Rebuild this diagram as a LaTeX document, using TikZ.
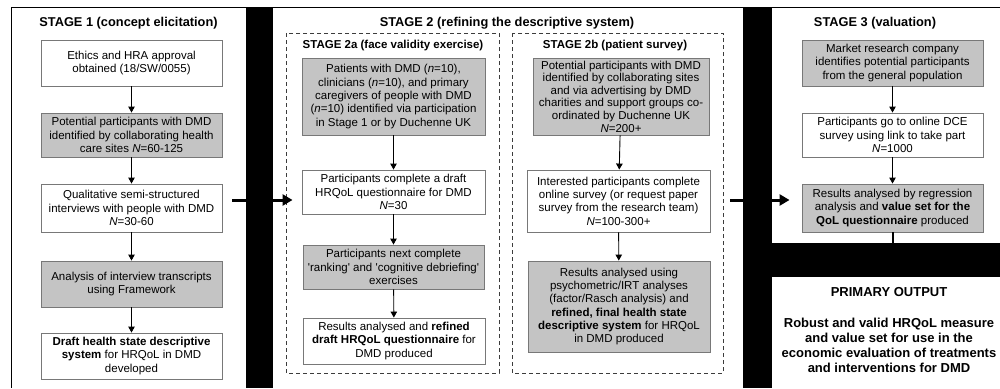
\documentclass[tikz,border=0pt]{standalone}
\usepackage{fontspec}
\setmainfont{Liberation Sans}
\usetikzlibrary{arrows.meta}
\definecolor{boxgray}{RGB}{196,196,196}
\definecolor{edgegray}{RGB}{120,120,120}
\definecolor{dashgray}{RGB}{60,60,60}
\begin{document}
\begin{tikzpicture}[x=1pt,y=-1pt,
  box/.style={draw=edgegray, line width=0.9pt, align=center, inner sep=0pt,
    font=\fontsize{11.5}{13.3}\selectfont},
  gbox/.style={box, fill=boxgray},
  wbox/.style={box, fill=white},
  flow/.style={-{Triangle[length=6pt,width=6.5pt]}, line width=0.9pt},
  bigflow/.style={-{Triangle[length=10pt,width=11pt]}, line width=3pt},
  stagetitle/.style={font=\bfseries\fontsize{12.8}{15}\selectfont, inner sep=0pt},
  subtitle/.style={font=\bfseries\fontsize{11.5}{13.5}\selectfont, inner sep=0pt},
  dashbox/.style={draw=dashgray, dash pattern=on 4pt off 3pt, line width=1pt},
  panel/.style={fill=white}
]
\useasboundingbox (0,0) rectangle (1000,388);
% background frame and panels
\fill[black] (11,7) rectangle (1000,388);
\fill[panel] (12,8) rectangle (246,388);
\fill[panel] (273,8) rectangle (743,388);
\fill[panel] (772,8) rectangle (1000,243);
\fill[panel] (772,277) rectangle (1000,388);

% dashed sub-panels
\draw[dashbox] (286,33) rectangle (499,373);
\draw[dashbox] (512,33) rectangle (723,373);

% titles
\node[stagetitle] (t1) at (128.5,23) {STAGE 1 (concept elicitation)};
\node[stagetitle] (t2) at (507,23) {STAGE 2 (refining the descriptive system)};
\node[stagetitle] (t3) at (875,23) {STAGE 3 (valuation)};
\node[subtitle] (t2a) at (393,46) {STAGE 2a (face validity exercise)};
\node[subtitle] (t2b) at (615,46) {STAGE 2b (patient survey)};

% Stage 1
\node[wbox, minimum width=181pt, minimum height=46pt] (s1) at (131.5,63)
  {Ethics and HRA approval\\obtained (18/SW/0055)};
\node[gbox, minimum width=181pt, minimum height=44pt] (s2) at (131.5,135)
  {Potential participants with DMD\\identified by collaborating health\\care sites \textit{N}=60-125};
\node[wbox, minimum width=181pt, minimum height=48pt] (s3) at (131.5,208)
  {Qualitative semi-structured\\interviews with people with DMD\\\textit{N}=30-60};
\node[gbox, minimum width=181pt, minimum height=46pt] (s4) at (131.5,284)
  {Analysis of interview transcripts\\using Framework};
\node[wbox, minimum width=181pt, minimum height=46pt] (s5) at (131.5,356)
  {\textbf{Draft health state descriptive}\\\textbf{system} for HRQoL in DMD\\developed};
\draw[flow] (s1) -- (s2);
\draw[flow] (s2) -- (s3);
\draw[flow] (s3) -- (s4);
\draw[flow] (s4) -- (s5);

% Stage 2a
\node[gbox, minimum width=183pt, minimum height=77pt] (a1) at (393.5,96.5)
  {Patients with DMD (\textit{n}=10),\\clinicians (\textit{n}=10), and primary\\caregivers of people with DMD\\(\textit{n}=10) identified via participation\\in Stage 1 or by Duchenne UK};
\node[wbox, minimum width=183pt, minimum height=44pt] (a2) at (393.5,192)
  {Participants complete a draft\\HRQoL questionnaire for DMD\\\textit{N}=30};
\node[gbox, minimum width=181pt, minimum height=44pt] (a3) at (393.5,267)
  {Participants next complete\\\textquotesingle ranking\textquotesingle\ and \textquotesingle cognitive debriefing\textquotesingle\\exercises};
\node[wbox, minimum width=182pt, minimum height=46pt] (a4) at (394,341)
  {Results analysed and \textbf{refined}\\\textbf{draft HRQoL questionnaire} for\\DMD produced};
\draw[flow] (a1) -- (a2);
\draw[flow] (a2) -- (a3);
\draw[flow] (a3) -- (a4);

% Stage 2b
\node[gbox, minimum width=176pt, minimum height=77pt, font=\fontsize{11.5}{12.6}\selectfont] (b1) at (621,96.5)
  {Potential participants with DMD\\identified by collaborating sites\\and via advertising by DMD\\charities and support groups co-\\ordinated by Duchenne UK\\\textit{N}=200+};
\node[wbox, minimum width=183pt, minimum height=62pt] (b2) at (618.5,201)
  {Interested participants complete\\online survey (or request paper\\survey from the research team)\\\textit{N}=100-300+};
\node[gbox, minimum width=182pt, minimum height=91pt] (b3) at (619,306.5)
  {Results analysed using\\psychometric/IRT analyses\\(factor/Rasch analysis) and\\\textbf{refined, final health state}\\\textbf{descriptive system} for HRQoL\\in DMD produced};
\draw[flow] (b1) -- (b2);
\draw[flow] (b2) -- (b3);

% Stage 3
\node[gbox, minimum width=181pt, minimum height=46pt] (c1) at (892.5,63)
  {Market research company\\identifies potential participants\\from the general population};
\node[wbox, minimum width=181pt, minimum height=44pt] (c2) at (892.5,135)
  {Participants go to online DCE\\survey using link to take part\\\textit{N}=1000};
\node[gbox, minimum width=181pt, minimum height=48pt] (c3) at (892.5,208)
  {Results analysed by regression\\analysis and \textbf{value set for the}\\\textbf{QoL questionnaire} produced};
\draw[flow] (c1) -- (c2);
\draw[flow] (c2) -- (c3);
\coordinate (band) at (c3.south |- 0,244);
\draw[line width=2pt] (c3.south) -- (band);

% Primary output
\node[font=\bfseries\fontsize{13}{15}\selectfont, inner sep=0pt] (po) at (889,292) {PRIMARY OUTPUT};
\node[font=\bfseries\fontsize{13}{15}\selectfont, align=center, inner sep=0pt] (pt) at (889,345)
  {Robust and valid HRQoL measure\\and value set for use in the\\economic evaluation of treatments\\and interventions for DMD};

% stage-to-stage arrows
\coordinate (o1) at ([xshift=10pt]s3.east |- 0,200);
\coordinate (i2) at ([xshift=-9pt]a2.west |- 0,200);
\draw[bigflow] (o1) -- (i2);
\coordinate (o2) at (730,200);
\coordinate (i3) at ([xshift=-12pt]c3.west |- 0,200);
\draw[bigflow] (o2) -- (i3);
\end{tikzpicture}
\end{document}
